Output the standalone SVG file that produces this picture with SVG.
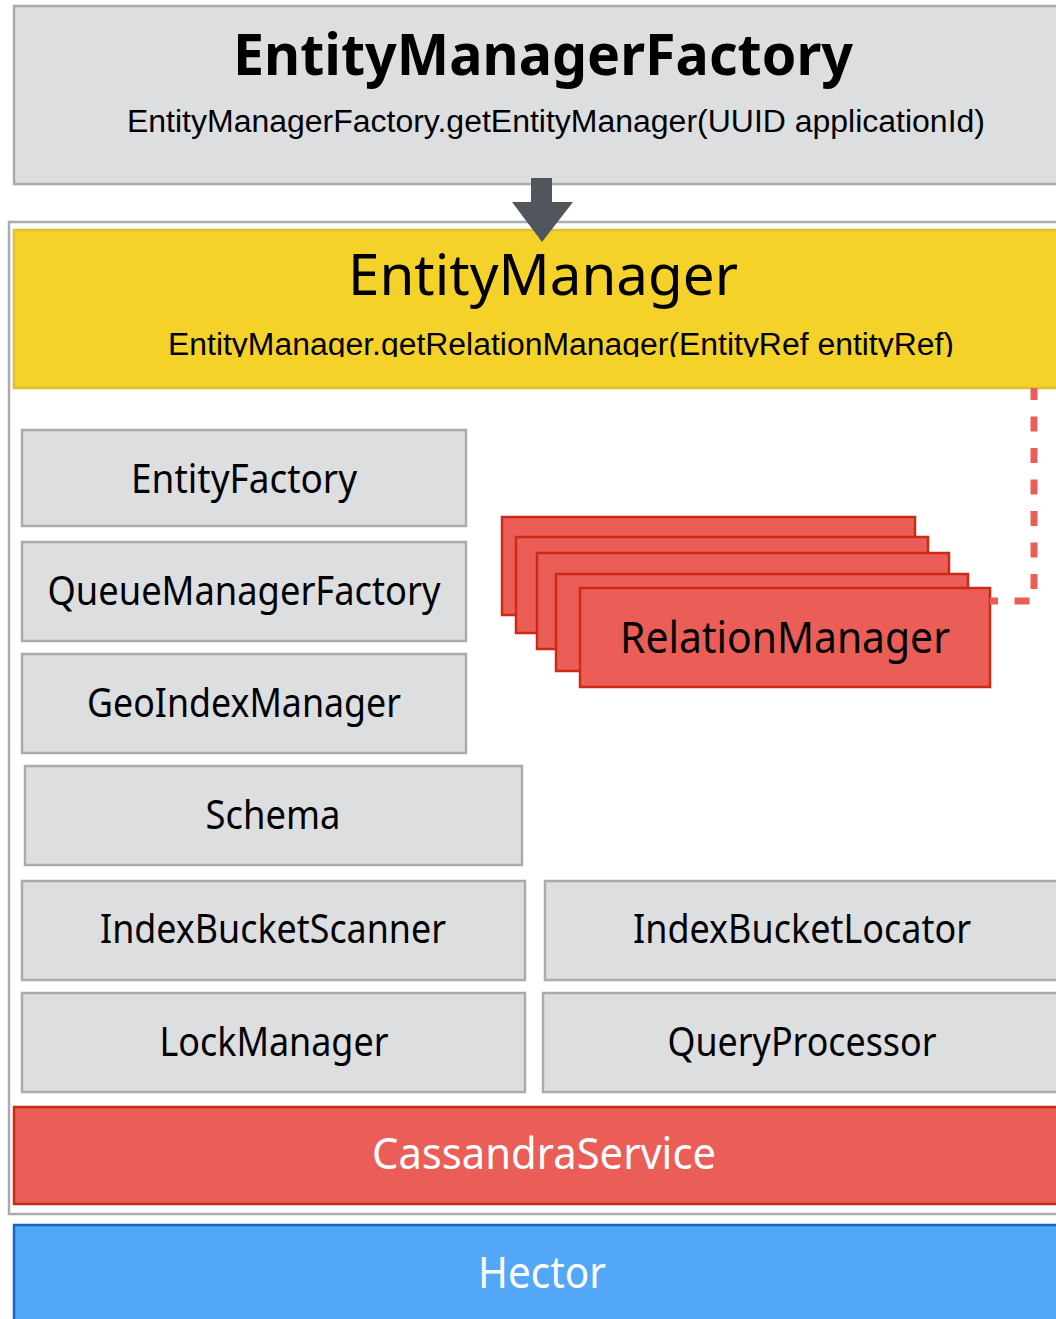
<svg xmlns="http://www.w3.org/2000/svg" width="1056" height="1319" viewBox="0 0 1056 1319">
  <style>
    .gray { fill: #dddee0; stroke: #aaacac; stroke-width: 2.5; }
    .yellow { fill: #f5d22a; stroke: #e0c030; stroke-width: 2.5; }
    .red { fill: #eb5e57; stroke: #cc2a14; stroke-width: 2.5; }
    .blue { fill: #52a7f7; stroke: #1168c4; stroke-width: 2.5; }
    .frame { fill: #ffffff; stroke: #aaacac; stroke-width: 2.5; }
    .lbl { font-family: "Noto Sans", "Open Sans", sans-serif; font-size: 40px; fill: #000000; text-anchor: middle; }
    .lbl-w { font-family: "Noto Sans", "Open Sans", sans-serif; font-size: 44px; fill: #ffffff; text-anchor: middle; }
    .title { font-size: 56px; }
    .stack { font-size: 44px; }
    .code { font-family: "Liberation Sans", Arial, sans-serif; font-size: 31px; fill: #000000; text-anchor: middle; }
    .dash { fill: none; stroke: #eb5e57; stroke-width: 7; stroke-dasharray: 15 16.5; stroke-dashoffset: 3; }
  </style>
  <defs>
    <clipPath id="emClip">
      <rect x="0" y="300" width="1056" height="57"/>
    </clipPath>
  </defs>

  <!-- outer container for the EntityManager layer -->
  <rect id="container" class="frame" x="9" y="222" width="1060" height="992"/>

  <g id="entityManagerFactory">
    <rect class="gray" x="14" y="6" width="1060" height="178"/>
    <text x="543" y="75" font-family="'Noto Sans', 'Open Sans', sans-serif" font-weight="bold" font-size="58" text-anchor="middle" textLength="620" lengthAdjust="spacingAndGlyphs">EntityManagerFactory</text>
    <text class="code" x="556" y="132" textLength="858" lengthAdjust="spacingAndGlyphs">EntityManagerFactory.getEntityManager(UUID applicationId)</text>
  </g>

  <g id="entityManager">
    <rect class="yellow" x="14" y="230" width="1060" height="158"/>
    <text class="lbl title" x="543" y="295" textLength="390" lengthAdjust="spacingAndGlyphs">EntityManager</text>
    <text class="code" x="561" y="355" textLength="786" lengthAdjust="spacingAndGlyphs" clip-path="url(#emClip)">EntityManager.getRelationManager(EntityRef entityRef)</text>
  </g>

  <g id="entityFactory">
    <rect class="gray" x="22" y="430" width="444" height="96"/>
    <text class="lbl" x="244" y="493" textLength="226" lengthAdjust="spacingAndGlyphs">EntityFactory</text>
  </g>

  <g id="queueManagerFactory">
    <rect class="gray" x="22" y="542" width="444" height="99"/>
    <text class="lbl" x="244" y="605" textLength="393" lengthAdjust="spacingAndGlyphs">QueueManagerFactory</text>
  </g>

  <g id="geoIndexManager">
    <rect class="gray" x="22" y="654" width="444" height="99"/>
    <text class="lbl" x="244" y="717" textLength="314" lengthAdjust="spacingAndGlyphs">GeoIndexManager</text>
  </g>

  <g id="schema">
    <rect class="gray" x="25" y="766" width="497" height="99"/>
    <text class="lbl" x="273" y="829" textLength="135" lengthAdjust="spacingAndGlyphs">Schema</text>
  </g>

  <g id="indexBucketScanner">
    <rect class="gray" x="22" y="881" width="503" height="99"/>
    <text class="lbl" x="273" y="943" textLength="346" lengthAdjust="spacingAndGlyphs">IndexBucketScanner</text>
  </g>

  <g id="indexBucketLocator">
    <rect class="gray" x="545" y="881" width="520" height="99"/>
    <text class="lbl" x="802" y="943" textLength="338" lengthAdjust="spacingAndGlyphs">IndexBucketLocator</text>
  </g>

  <g id="lockManager">
    <rect class="gray" x="22" y="993" width="503" height="99"/>
    <text class="lbl" x="274" y="1056" textLength="229" lengthAdjust="spacingAndGlyphs">LockManager</text>
  </g>

  <g id="queryProcessor">
    <rect class="gray" x="543" y="993" width="520" height="99"/>
    <text class="lbl" x="802" y="1056" textLength="269" lengthAdjust="spacingAndGlyphs">QueryProcessor</text>
  </g>

  <!-- stacked RelationManager instances -->
  <g id="relationManager">
    <rect class="red" x="502" y="517" width="413" height="98"/>
    <rect class="red" x="516" y="537" width="412" height="96"/>
    <rect class="red" x="537" y="553" width="412" height="96"/>
    <rect class="red" x="556" y="574" width="412" height="97"/>
    <rect class="red" x="580" y="588" width="410" height="99"/>
    <text class="lbl stack" x="785" y="653" textLength="330" lengthAdjust="spacingAndGlyphs">RelationManager</text>
  </g>

  <g id="cassandraService">
    <rect class="red" x="14" y="1107" width="1060" height="97"/>
    <text class="lbl-w" x="544" y="1169" textLength="344" lengthAdjust="spacingAndGlyphs">CassandraService</text>
  </g>

  <g id="hector">
    <rect class="blue" x="14" y="1225" width="1060" height="110"/>
    <text class="lbl-w" x="542" y="1288" textLength="128" lengthAdjust="spacingAndGlyphs">Hector</text>
  </g>

  <g id="connectors">
    <!-- factory creates the entity manager -->
    <polygon fill="#51565c" points="531,178 552,178 552,202 573,202 542,242 512,202 531,202"/>
    <!-- entity manager hands out relation managers -->
    <path class="dash" d="M1034,388 V601 H990"/>
  </g>
</svg>
